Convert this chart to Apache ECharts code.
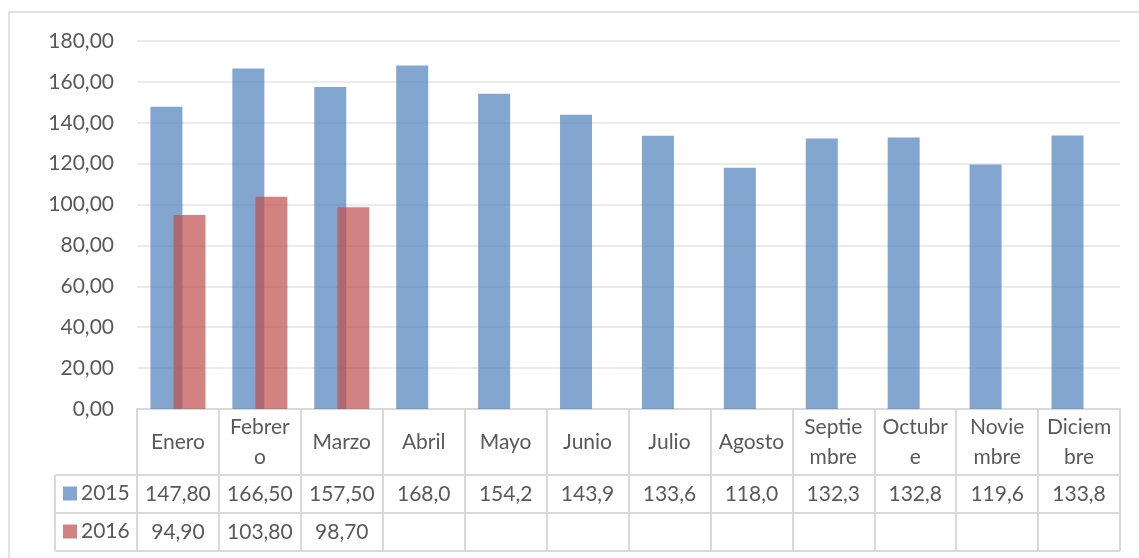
<!DOCTYPE html>
<html>
<head>
<meta charset="utf-8">
<script src="https://cdn.jsdelivr.net/npm/echarts@6/dist/echarts.min.js"></script>
<style>
  html, body { margin: 0; padding: 0; background: #fff; }
  #main { width: 1139px; height: 558px; }
</style>
</head>
<body>
<div id="main"></div>
<script>
// datos del gráfico
var meses = ['Enero', 'Febrero', 'Marzo', 'Abril', 'Mayo', 'Junio', 'Julio', 'Agosto', 'Septiembre', 'Octubre', 'Noviembre', 'Diciembre'];
var etiquetasMes = ['Enero', 'Febrer\no', 'Marzo', 'Abril', 'Mayo', 'Junio', 'Julio', 'Agosto', 'Septie\nmbre', 'Octubr\ne', 'Novie\nmbre', 'Diciem\nbre'];
var valores2015 = [147.8, 166.5, 157.5, 168.0, 154.2, 143.9, 133.6, 118.0, 132.3, 132.8, 119.6, 133.8];
var valores2016 = [94.9, 103.8, 98.7, null, null, null, null, null, null, null, null, null];
var decimales2015 = [2, 2, 2, 1, 1, 1, 1, 1, 1, 1, 1, 1];
var decimales2016 = [2, 2, 2];
var ticksY = [0, 20, 40, 60, 80, 100, 120, 140, 160, 180];

var fuente = 'Lato';
var tam = 21;
var gris = '#595959';
var linea = '#d9d9d9';

function fmt(v, d) {
	if (v === null || v === undefined) return '';
	return v.toFixed(d).replace('.', ',');
}

var myChart = echarts.init(document.getElementById('main'));

// geometría de la tabla de datos
var izq = 137, der = 1120, tabla = 55;
var filas = [475, 513, 551];

var lineas = [];
for (var i = 0; i < filas.length; i++) {
	lineas.push({
		type: 'line',
		shape: { x1: tabla, y1: filas[i], x2: der, y2: filas[i] },
		style: { stroke: linea, lineWidth: 2 }
	});
}
lineas.push({
	type: 'line',
	shape: { x1: tabla, y1: filas[0], x2: tabla, y2: filas[2] },
	style: { stroke: linea, lineWidth: 2 }
});
lineas.push({
	type: 'rect',
	shape: { x: 9, y: 12, width: 1200, height: 600 },
	style: { fill: 'none', stroke: linea, lineWidth: 1.5 }
});

var option = {
	animation: false,
	textStyle: { fontFamily: fuente },
	legend: {
		orient: 'vertical',
		left: 63,
		top: 483,
		padding: 0,
		itemWidth: 14,
		itemHeight: 14,
		itemGap: 17,
		icon: 'rect',
		textStyle: { fontSize: tam, color: gris, fontFamily: fuente, padding: [0, 0, 0, -1] },
		data: ['2015', '2016']
	},
	grid: [
		{ left: izq, right: 1139 - der, top: 41, bottom: 558 - 409 },
		{ left: izq, right: 1139 - der, top: filas[0], height: 38 },
		{ left: izq, right: 1139 - der, top: filas[1], height: 38 }
	],
	xAxis: [
		{
			type: 'category',
			gridIndex: 0,
			data: meses,
			axisLine: { lineStyle: { color: linea, width: 2 } },
			axisTick: { show: true, length: 142, interval: 0, lineStyle: { color: linea, width: 2 } },
			axisLabel: {
				interval: 0,
				margin: 33,
				verticalAlign: 'middle',
				fontSize: tam,
				lineHeight: 30,
				color: gris,
				fontFamily: fuente,
				formatter: function (v, idx) { return etiquetasMes[idx]; }
			}
		},
		{
			type: 'category',
			gridIndex: 1,
			position: 'top',
			data: meses,
			axisLine: { show: false },
			axisTick: { show: false },
			axisLabel: {
				inside: true,
				interval: 0,
				margin: 19,
				verticalAlign: 'middle',
				fontSize: tam,
				color: gris,
				fontFamily: fuente,
				formatter: function (v, idx) { return fmt(valores2015[idx], decimales2015[idx]); }
			}
		},
		{
			type: 'category',
			gridIndex: 2,
			position: 'top',
			data: meses,
			axisLine: { show: false },
			axisTick: { show: false },
			axisLabel: {
				inside: true,
				interval: 0,
				margin: 19,
				verticalAlign: 'middle',
				fontSize: tam,
				color: gris,
				fontFamily: fuente,
				formatter: function (v, idx) { return fmt(valores2016[idx], decimales2016[idx]); }
			}
		}
	],
	yAxis: [
		{
			type: 'value',
			gridIndex: 0,
			min: ticksY[0],
			max: ticksY[ticksY.length - 1],
			interval: 20,
			axisLine: { show: false },
			axisTick: { show: false },
			splitLine: { lineStyle: { color: '#ebebeb', width: 2 } },
			axisLabel: {
				margin: 23,
				fontSize: tam,
				color: gris,
				fontFamily: fuente,
				formatter: function (v) { return fmt(v, 2); }
			}
		},
		{ type: 'value', gridIndex: 1, show: false },
		{ type: 'value', gridIndex: 2, show: false }
	],
	series: [
		{
			name: '2015',
			type: 'bar',
			xAxisIndex: 0,
			yAxisIndex: 0,
			data: valores2015,
			barWidth: 32,
			barGap: '-28%',
			itemStyle: { color: 'rgba(79,129,189,0.71)' }
		},
		{
			name: '2016',
			type: 'bar',
			xAxisIndex: 0,
			yAxisIndex: 0,
			data: valores2016,
			barWidth: 32,
			barGap: '-28%',
			itemStyle: { color: 'rgba(192,80,77,0.71)' }
		}
	],
	graphic: lineas
};

myChart.setOption(option);
</script>
</body>
</html>
